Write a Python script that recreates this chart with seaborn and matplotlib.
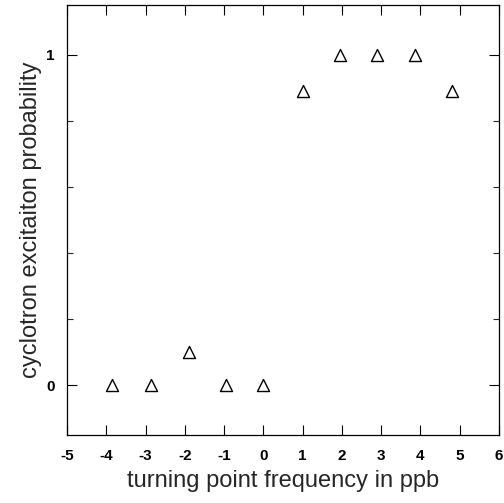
import matplotlib
matplotlib.use("Agg")
import matplotlib.pyplot as plt
import seaborn as sns
import pandas as pd
from matplotlib.ticker import FixedLocator

freq = [-3.85, -2.85, -1.9, -0.95, 0.0, 1.0, 1.95, 2.9, 3.85, 4.8]
prob = [0.0, 0.0, 0.1, 0.0, 0.0, 0.89, 1.0, 1.0, 1.0, 0.89]
xticks = [-5, -4, -3, -2, -1, 0, 1, 2, 3, 4, 5, 6]
yticks = [0, 1]

sns.set_theme(style="ticks")
plt.rcParams['font.family'] = ['Liberation Sans', 'DejaVu Sans']
plt.rcParams['axes.unicode_minus'] = False

df = pd.DataFrame({"freq": freq, "prob": prob})

fig = plt.figure(figsize=(5.04, 5.03), dpi=100)
ax = fig.add_axes([67/504, 1 - 435/503, (499-67)/504, (435-5)/503])
sns.scatterplot(data=df, x="freq", y="prob", marker="^", s=75,
                facecolor="white", edgecolor="black", linewidth=1.0, ax=ax)
ax.set_xlim(-5, 6)
ax.set_ylim(-0.15, 1.15)
ax.xaxis.set_major_locator(FixedLocator(xticks))
ax.yaxis.set_major_locator(FixedLocator(yticks))
ax.yaxis.set_minor_locator(FixedLocator([0.2, 0.4, 0.6, 0.8]))
ax.tick_params(axis="both", which="major", direction="in", length=7, width=0.8,
               top=True, right=True, labelsize=11, colors="black")
ax.tick_params(axis="x", which="major", pad=10)
ax.tick_params(axis="y", which="major", pad=9)
ax.tick_params(axis="y", which="minor", direction="in", length=4, width=0.8,
               left=True, right=True)
for lab in ax.get_xticklabels() + ax.get_yticklabels():
    lab.set_fontweight("bold")
for s in ax.spines.values():
    s.set_linewidth(0.9)
    s.set_color("black")
ax.set_xlabel("turning point frequency in ppb", fontsize=17, labelpad=5)
ax.set_ylabel("cyclotron excitaiton probability", fontsize=17, labelpad=3)
fig.savefig("out.png", dpi=100)
